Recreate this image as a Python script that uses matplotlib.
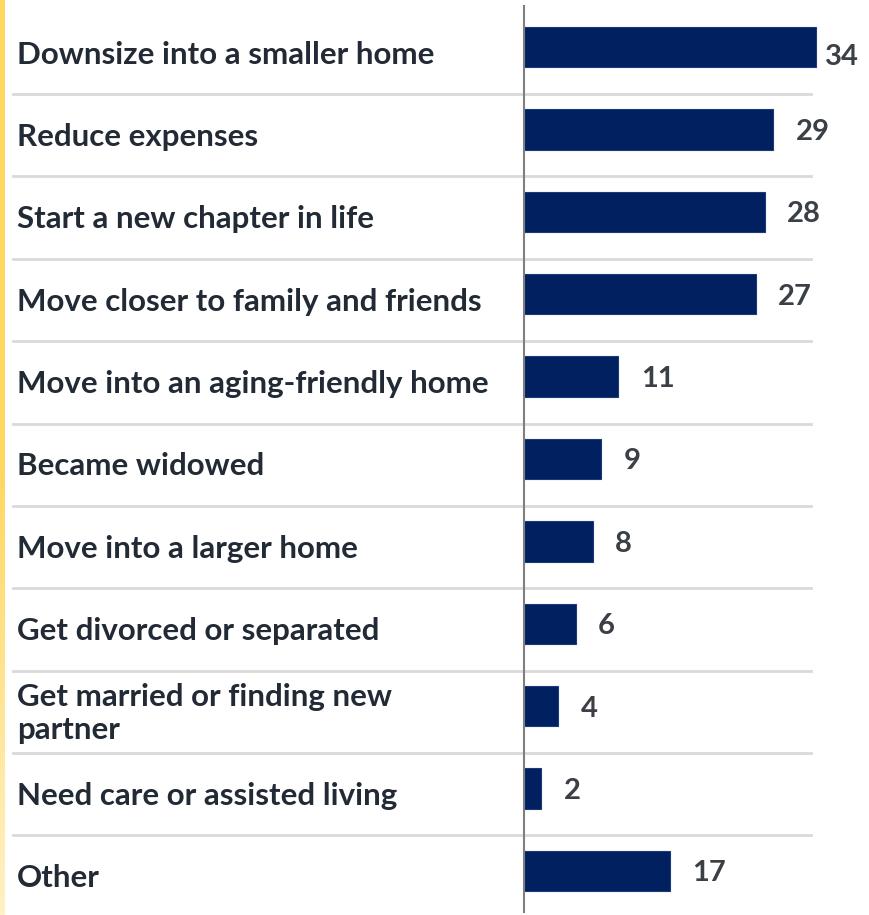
import matplotlib
matplotlib.use("Agg")
import matplotlib.pyplot as plt
import matplotlib.transforms as mtransforms
import numpy as np

labels = ["Downsize into a smaller home", "Reduce expenses", "Start a new chapter in life",
          "Move closer to family and friends", "Move into an aging-friendly home", "Became widowed",
          "Move into a larger home", "Get divorced or separated", "Get married or finding new\npartner",
          "Need care or assisted living", "Other"]
values = [34, 29, 28, 27, 11, 9, 8, 6, 4, 2, 17]

W, H = 869, 915
fig = plt.figure(figsize=(W / 100, H / 100), dpi=100)
fig.patch.set_facecolor("white")

# axes spans from the vertical line to the right edge
ax = fig.add_axes([524 / W, 1 - 912 / H, (W - 524) / W, (912 - 6) / H])
y = np.arange(len(values))
ax.barh(y, values, height=0.49, color="#002060", edgecolor="#1a3a7a", linewidth=0.8)
ax.set_xlim(0, (W - 524) / 8.59)
ax.set_ylim(len(values) - 0.5, -0.5)
ax.set_xticks([])
ax.set_yticks([])
for s in ["top", "right", "bottom"]:
    ax.spines[s].set_visible(False)
ax.spines["left"].set_color("#7f7f7f")
ax.spines["left"].set_linewidth(1.5)

font = "Lato"
tr = mtransforms.blended_transform_factory(fig.transFigure, ax.transData)
for i, (lab, v) in enumerate(zip(labels, values)):
    ax.text(17 / W, i + 0.09, lab, transform=tr, fontsize=22.5, fontweight="bold", family=font,
            color="#222a35", va="center", ha="left", linespacing=1.2)
    if v == max(values):
        ax.text(v + 1.0, i + 0.12, str(v), fontsize=21, fontweight="bold", family=font,
                color="#3b3f46", va="center", ha="left")
    else:
        ax.text(v + 2.6, i + 0.03, str(v), fontsize=21, fontweight="bold", family=font,
                color="#3b3f46", va="center", ha="left")
    if i < len(values) - 1:
        ax.plot([13 / W, 811 / W], [i + 0.57, i + 0.57], transform=tr, color="#d9d9d9",
                lw=2, clip_on=False, zorder=0)

# yellow strip on left edge, fading toward bottom
gax = fig.add_axes([0, 0, 5 / W, 1])
grad = np.linspace(0, 1, 256).reshape(-1, 1)
cmap = matplotlib.colors.LinearSegmentedColormap.from_list("y", ["#ffd75e", "#ffd75e", "#fff1c4"])
gax.imshow(grad, aspect="auto", cmap=cmap, extent=[0, 1, 0, 1], origin="upper")
gax.axis("off")

fig.savefig("out.png", dpi=100)
